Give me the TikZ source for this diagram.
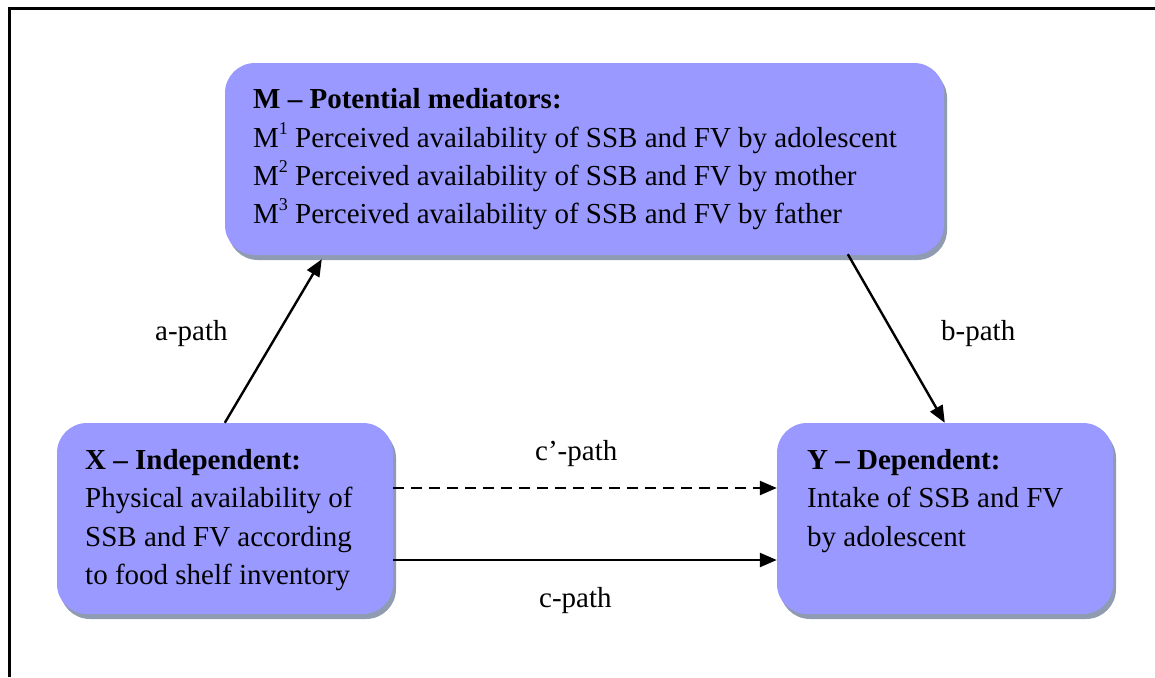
\documentclass[tikz,border=0pt]{standalone}
\usepackage{fontspec}
\setmainfont{Liberation Serif}
\usetikzlibrary{arrows.meta,shadows}
\definecolor{boxfill}{RGB}{153,153,255}
\definecolor{shadowc}{RGB}{143,155,176}
\newcommand{\supnum}[1]{\raisebox{0.42em}{\fontsize{18}{18}\selectfont #1}}
\tikzset{
  box/.style={rectangle, rounded corners=30pt, fill=boxfill, draw=none, inner sep=0pt,
    drop shadow={fill=shadowc, shadow xshift=3pt, shadow yshift=-5pt, opacity=1}},
  txt/.style={anchor=base west, inner sep=0pt, font=\fontsize{29}{38}\selectfont},
  arr/.style={line width=2.4pt, -{Triangle[length=17pt,width=14pt]}},
  frame/.style={line width=3pt, black}
}
\begin{document}
\begin{tikzpicture}[x=1pt,y=-1pt]
\useasboundingbox (0,0) rectangle (1155,677);
% frame (top and left)
\draw[frame] (9.5,677) -- (9.5,8.5) -- (1155,8.5);
% boxes
\node[box, minimum width=719pt, minimum height=192pt] (M) at (584.5,159) {};
\node[box, minimum width=336pt, minimum height=191pt] (X) at (225,518.5) {};
\node[box, minimum width=336pt, minimum height=191pt] (Y) at (945,518.5) {};
% M text
\node[txt] (m0) at (253,108) {\textbf{M – Potential mediators:}};
\node[txt] (m1) at (253,147) {M\supnum{1} Perceived availability of SSB and FV by adolescent};
\node[txt] (m2) at (253,185) {M\supnum{2} Perceived availability of SSB and FV by mother};
\node[txt] (m3) at (253,223) {M\supnum{3} Perceived availability of SSB and FV by father};
% X text
\node[txt] (x0) at (85,469) {\textbf{X – Independent:}};
\node[txt] (x1) at (85,507) {Physical availability of};
\node[txt] (x2) at (85,546) {SSB and FV according};
\node[txt] (x3) at (85,584) {to food shelf inventory};
% Y text
\node[txt] (y0) at (807,469) {\textbf{Y – Dependent:}};
\node[txt] (y1) at (807,507) {Intake of SSB and FV};
\node[txt] (y2) at (807,546) {by adolescent};
% connectors
\draw[arr] ([xshift=168pt]X.north west) -- ([xshift=97pt,yshift=-4pt]M.south west);
\draw[arr] ([xshift=623pt,yshift=1pt]M.south west) -- ([xshift=168pt]Y.north west);
\draw[arr, dash pattern=on 11pt off 7pt] ([yshift=30.5pt]X.east) -- ([yshift=30.5pt]Y.west);
\draw[arr] ([yshift=-41.5pt]X.east) -- ([yshift=-41.5pt]Y.west);
% labels
\node[txt] (la) at (155,340) {a-path};
\node[txt] (lb) at (941,340) {b-path};
\node[txt] (lc1) at (535,460) {c’-path};
\node[txt] (lc) at (539,607) {c-path};
\end{tikzpicture}
\end{document}
